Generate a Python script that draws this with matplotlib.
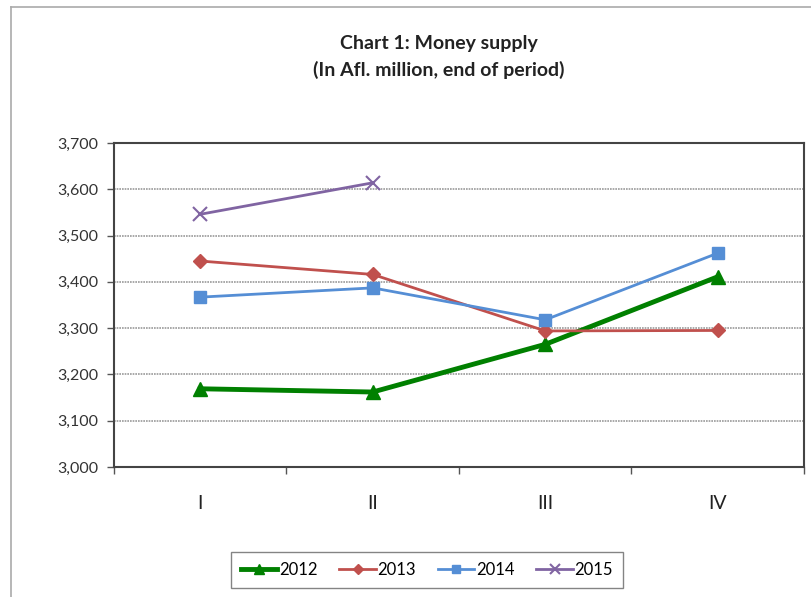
import matplotlib.pyplot as plt
from matplotlib.lines import Line2D
from matplotlib.ticker import FuncFormatter

quarters = ['I', 'II', 'III', 'IV']
money_2012 = [3169, 3162, 3265, 3411]
money_2013 = [3445, 3416, 3294, 3295]
money_2014 = [3367, 3387, 3318, 3462]
money_2015 = [3546, 3614]

plt.rcParams['font.family'] = ['Lato', 'DejaVu Sans']

fig = plt.figure(figsize=(8.12, 5.97), dpi=100)
ax = fig.add_axes([114 / 812, 130 / 597, 690 / 812, 324 / 597])

x = list(range(len(quarters)))
ax.plot(x, money_2012, color='#008000', lw=3.5, marker='^', ms=10, label='2012', zorder=3)
ax.plot(x, money_2013, color='#C0504D', lw=2, marker='D', ms=7, label='2013', zorder=3)
ax.plot(x, money_2014, color='#558ED5', lw=2, marker='s', ms=9, label='2014', zorder=3)
ax.plot(x[:len(money_2015)], money_2015, color='#8064A2', lw=2, marker='x', ms=10,
        mew=1.5, label='2015', zorder=3)

ax.set_xlim(-0.5, 3.5)
ax.set_ylim(3000, 3700)
ax.set_yticks(range(3000, 3701, 100))
ax.yaxis.set_major_formatter(FuncFormatter(lambda v, p: f'{int(v):,}'))
ax.set_xticks(x)
ax.set_xticklabels(quarters, fontsize=14)
ax.set_xticks([-0.5, 0.5, 1.5, 2.5, 3.5], minor=True)
ax.tick_params(axis='x', which='major', length=0, pad=20, labelcolor='#222222')
ax.tick_params(axis='x', which='minor', length=5, width=1, color='#555555')
ax.tick_params(axis='y', length=5, width=1, color='#555555', labelsize=11.5,
               labelcolor='#333333', pad=6)
ax.grid(axis='y', color='#999999', lw=1.2, linestyle=(0, (1, 0.6)), zorder=0)
for s in ax.spines.values():
    s.set_color('#444444')
    s.set_linewidth(1.5)

fig.text(439 / 812, 1 - 43 / 597, 'Chart 1: Money supply', ha='center', va='center',
         fontsize=14, fontweight='bold', color='#222222')
fig.text(439 / 812, 1 - 70 / 597, '(In Afl. million, end of period)', ha='center',
         va='center', fontsize=14, fontweight='bold', color='#222222')

leg = fig.legend(loc='center', bbox_to_anchor=(427 / 812, 1 - 570 / 597), ncol=4,
                 frameon=True, fancybox=False, edgecolor='#666666', fontsize=12,
                 handlelength=2.2, handletextpad=0.1, columnspacing=1.3,
                 borderpad=0.6, markerscale=0.7)
leg.get_frame().set_linewidth(1)

# outer chart frame (cut off at the right and bottom)
fig.add_artist(Line2D([11 / 812, 11 / 812], [0, 1 - 7 / 597], color='#aaaaaa', lw=1.2))
fig.add_artist(Line2D([11 / 812, 1], [1 - 7 / 597, 1 - 7 / 597], color='#aaaaaa', lw=1.2))

fig.savefig('out.png', dpi=100)
